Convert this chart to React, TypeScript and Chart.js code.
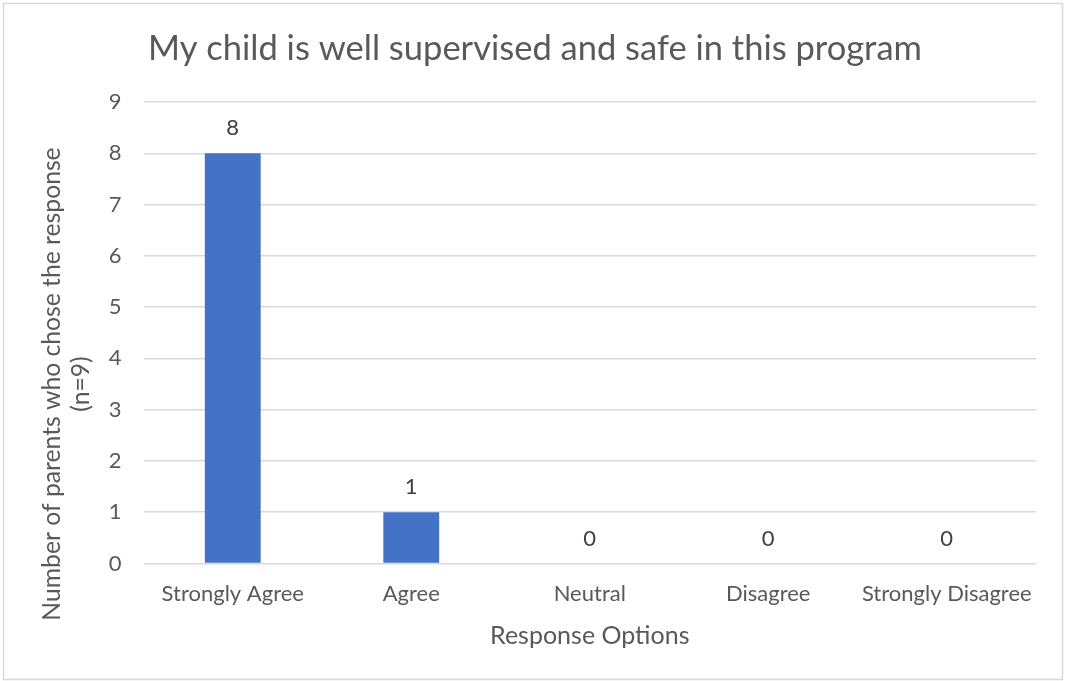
import React, { useEffect, useRef } from "react";
import { Chart, registerables } from "chart.js";

Chart.register(...registerables);

const categories = ["Strongly Agree", "Agree", "Neutral", "Disagree", "Strongly Disagree"];
const counts = [8, 1, 0, 0, 0];
const yMin = 0;
const yMax = 9;
const yStep = 1;
const chartTitle = "My child is well supervised and safe in this program";
const xAxisTitle = "Response Options";
const yAxisTitle = ["Number of parents who chose the response", "(n=9)"];

const FONT = "Lato, 'Open Sans', sans-serif";
const TEXT = "#595959";
const GRID = "#d9d9d9";
const BAR = "#4472C4";

const framePlugin = {
  id: "frame",
  beforeDraw(chart: any) {
    const { ctx, width, height } = chart;
    ctx.save();
    ctx.fillStyle = "#ffffff";
    ctx.fillRect(0, 0, width, height);
    ctx.strokeStyle = GRID;
    ctx.lineWidth = 1.5;
    ctx.strokeRect(3.5, 3.5, width - 3.5 - 2.5, height - 3.5 - 1.5);
    ctx.restore();
  },
};

// Y axis title: Excel centres it on the chart height, not the plot area
const yTitlePlugin = {
  id: "yTitle",
  afterDraw(chart: any) {
    const { ctx } = chart;
    const baselines = [60, 89];
    const centerY = 384;
    ctx.save();
    ctx.font = `24.7px ${FONT}`;
    ctx.fillStyle = TEXT;
    ctx.textAlign = "center";
    ctx.textBaseline = "alphabetic";
    yAxisTitle.forEach((line, i) => {
      ctx.save();
      ctx.translate(baselines[i], centerY);
      ctx.rotate(-Math.PI / 2);
      ctx.fillText(line, 0, 0);
      ctx.restore();
    });
    ctx.restore();
  },
};

const valueLabelPlugin = {
  id: "valueLabels",
  afterDatasetsDraw(chart: any) {
    const { ctx } = chart;
    const meta = chart.getDatasetMeta(0);
    const data = chart.data.datasets[0].data as number[];
    ctx.save();
    ctx.font = `22px ${FONT}`;
    ctx.fillStyle = "#404040";
    ctx.textAlign = "center";
    ctx.textBaseline = "alphabetic";
    meta.data.forEach((el: any, i: number) => {
      ctx.fillText(String(data[i]), el.x, el.y - 18);
    });
    ctx.restore();
  },
};

export default function App() {
  const ref = useRef<HTMLCanvasElement | null>(null);

  useEffect(() => {
    if (!ref.current) return;
    const chart = new Chart(ref.current, {
      type: "bar",
      data: {
        labels: categories,
        datasets: [
          {
            data: counts,
            backgroundColor: BAR,
            borderWidth: 0,
            barPercentage: 0.313,
            categoryPercentage: 1,
          },
        ],
      },
      options: {
        responsive: false,
        animation: false,
        devicePixelRatio: 1,
        layout: { padding: { left: 34, right: 29, top: 0, bottom: 0 } },
        plugins: {
          legend: { display: false },
          tooltip: { enabled: false },
          title: {
            display: true,
            text: chartTitle,
            color: TEXT,
            font: { family: FONT, size: 34.5, weight: "normal" },
            padding: { top: 27.8, bottom: 32.8 },
          },
        },
        scales: {
          x: {
            grid: { display: false, drawTicks: false },
            border: { display: false },
            ticks: {
              color: TEXT,
              font: { family: FONT, size: 22 },
              padding: 17,
              maxRotation: 0,
              autoSkip: false,
            },
            title: {
              display: true,
              text: xAxisTitle,
              color: TEXT,
              font: { family: FONT, size: 25 },
              padding: { top: 0, bottom: 30 },
            },
            afterFit(scale: any) {
              scale.height = 117.5;
            },
          },
          y: {
            min: yMin,
            max: yMax,
            grid: { color: GRID, lineWidth: 1.5, drawTicks: false },
            border: { display: false },
            ticks: {
              stepSize: yStep,
              color: TEXT,
              font: { family: FONT, size: 22 },
              padding: 22,
            },
            afterFit(scale: any) {
              scale.width = 143.5 - 34;
            },
          },
        },
      },
      plugins: [framePlugin, valueLabelPlugin, yTitlePlugin],
    });
    return () => chart.destroy();
  }, []);

  return (
    <div style={{ position: "fixed", left: 0, top: 0, width: 1065, height: 681 }}>
      <canvas ref={ref} width={1065} height={681} style={{ width: 1065, height: 681 }} />
    </div>
  );
}
